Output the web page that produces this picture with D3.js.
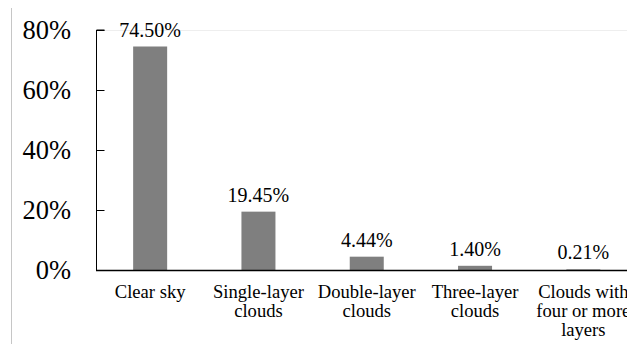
<!DOCTYPE html>
<html><head><meta charset="utf-8">
<script src="https://cdn.jsdelivr.net/npm/d3@7/dist/d3.min.js"></script>
</head><body style="margin:0">
<svg id="s" width="627" height="344" style="display:block"></svg>
<script>
// Cloud-layer occurrence shares (%)
const categories = [
  ["Clear sky"],
  ["Single-layer", "clouds"],
  ["Double-layer", "clouds"],
  ["Three-layer", "clouds"],
  ["Clouds with", "four or more", "layers"]
];
const values = [74.50, 19.45, 4.44, 1.40, 0.21];
const valueLabels = ["74.50%", "19.45%", "4.44%", "1.40%", "0.21%"];
const yTicks = [0, 20, 40, 60, 80];

const FONT = '"Liberation Serif", monospace';

const svg = d3.select("#s");
const margin = { left: 96, top: 30, bottom: 270 };
const plotRight = 637.5;

// left border rule
svg.append("line")
  .attr("x1", 11.5).attr("x2", 11.5)
  .attr("y1", 8).attr("y2", 344)
  .attr("stroke", "#c6c6c6").attr("stroke-width", 1);

const x = d3.scaleBand()
  .domain(d3.range(categories.length))
  .range([margin.left, plotRight])
  .paddingInner(0.686)
  .paddingOuter(0.343);

const y = d3.scaleLinear().domain([0, 80]).range([margin.bottom, margin.top]);

// 80% gridline
svg.append("line")
  .attr("x1", margin.left).attr("x2", plotRight)
  .attr("y1", y(80) + 0.5).attr("y2", y(80) + 0.5)
  .attr("stroke", "#eeeeee").attr("stroke-width", 1);

// bars
svg.append("g").selectAll("rect")
  .data(values)
  .join("rect")
  .attr("x", (d, i) => x(i))
  .attr("width", x.bandwidth())
  .attr("y", d => y(d))
  .attr("height", d => y(0) - y(d))
  .attr("fill", "#7f7f7f");

// y axis with inward ticks
const yAxis = svg.append("g")
  .attr("transform", `translate(${margin.left + 0.5},0)`)
  .call(d3.axisRight(y).tickValues(yTicks).tickSize(8).tickFormat(""));
yAxis.select(".domain").attr("stroke", "#000").attr("d", `M8,${y(80)}H0V${y(0)}`);
yAxis.selectAll(".tick line").attr("stroke", "#000");

svg.append("g").selectAll("text")
  .data(yTicks)
  .join("text")
  .attr("x", 71)
  .attr("y", d => y(d) + 9)
  .attr("font-size", 26.5)
  .attr("text-anchor", "end")
  .style("font-family", FONT)
  .text(d => d + "%");

// x axis baseline
svg.append("line")
  .attr("x1", margin.left).attr("x2", plotRight)
  .attr("y1", y(0) + 0.5).attr("y2", y(0) + 0.5)
  .attr("stroke", "#000").attr("stroke-width", 1.3);

// value labels
svg.append("g").selectAll("text")
  .data(values)
  .join("text")
  .attr("x", (d, i) => x(i) + x.bandwidth() / 2)
  .attr("y", d => y(d) - 10)
  .attr("font-size", 20)
  .attr("text-anchor", "middle")
  .style("font-family", FONT)
  .text((d, i) => valueLabels[i]);

// category labels, one text per line
const catG = svg.append("g");
categories.forEach((lines, i) => {
  catG.selectAll(null)
    .data(lines)
    .join("text")
    .attr("x", x(i) + x.bandwidth() / 2)
    .attr("y", (d, j) => 298 + j * 18.8)
    .attr("font-size", 18.6)
    .attr("text-anchor", "middle")
    .style("font-family", FONT)
    .text(d => d);
});
</script></body></html>
